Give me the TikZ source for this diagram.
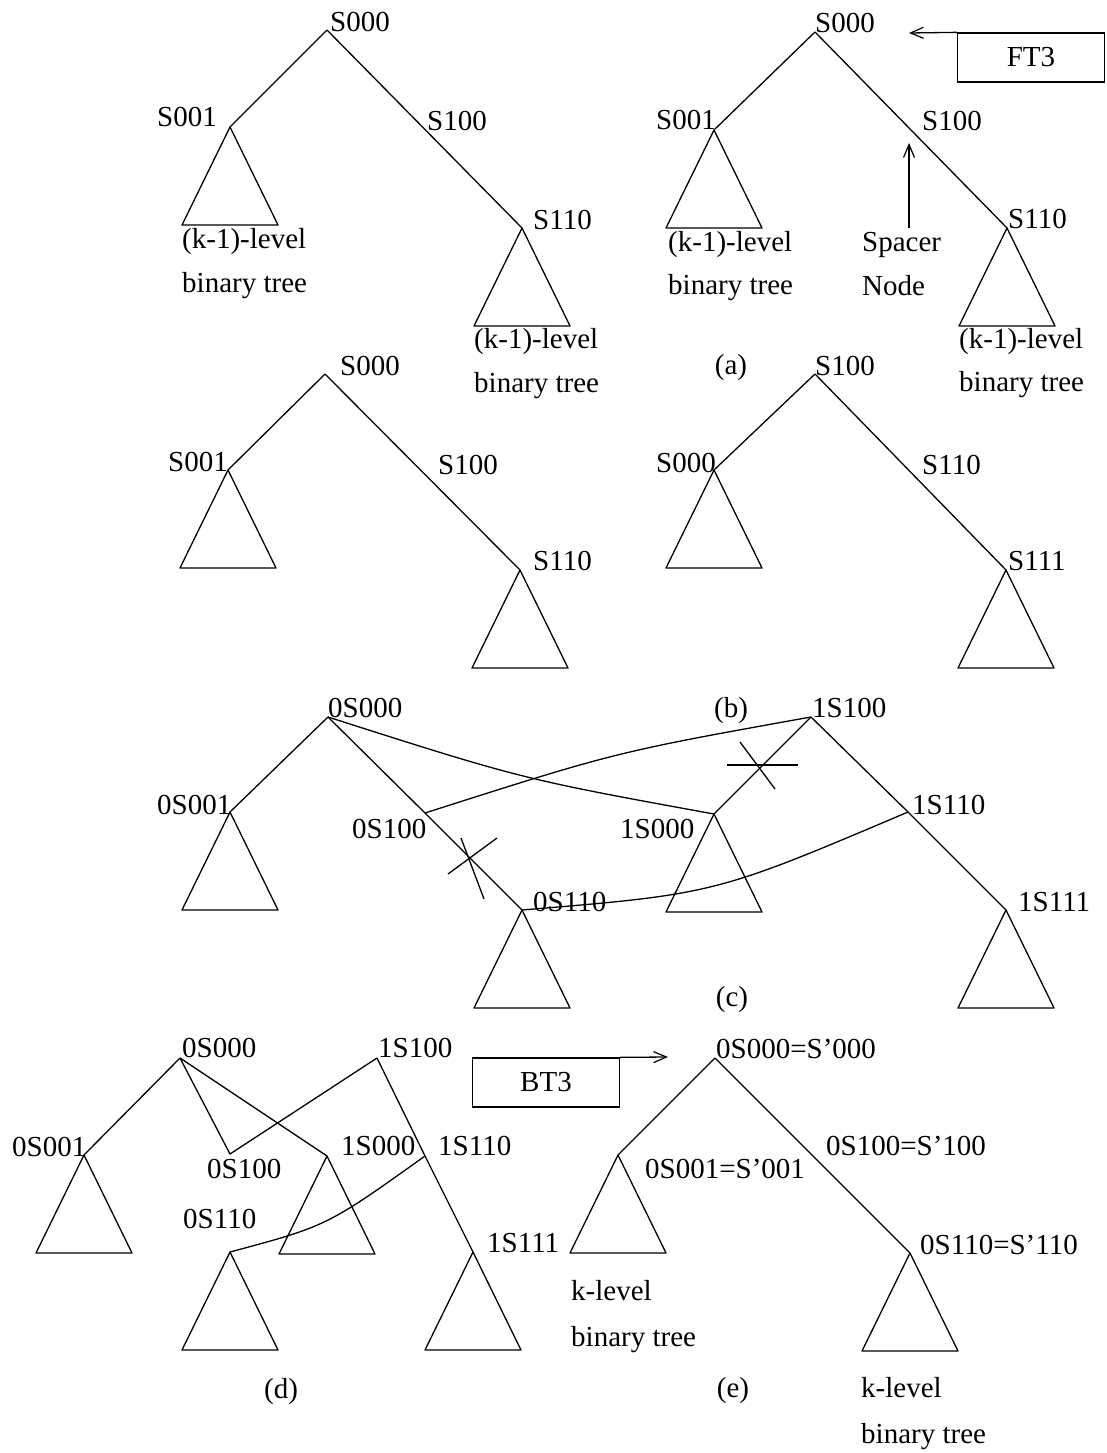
\documentclass[tikz,border=0pt]{standalone}
\usepackage{fontspec}
\setmainfont{Liberation Serif}
\usetikzlibrary{arrows.meta}

\tikzset{
  edge/.style={line width=1.3pt, line join=round},
  lbl/.style={anchor=base west, inner sep=0pt, font=\fontsize{29}{34}\selectfont},
  captext/.style={anchor=base, inner sep=0pt, font=\fontsize{29}{34}\selectfont},
  boxnode/.style={draw, line width=1.3pt, minimum width=147pt, minimum height=49pt,
    inner sep=0pt, font=\fontsize{29}{34}\selectfont},
  barb/.style={-{Straight Barb[length=13pt,width=11pt,line width=1.2pt]}},
  subtree/.pic={\draw[edge] (0,0) -- (-48,98) -- (48,98) -- cycle;},
}

\begin{document}
\begin{tikzpicture}[x=1pt,y=-1pt]
\useasboundingbox (0,0) rectangle (1107,1453);

% ---------------- top left tree ----------------
\coordinate (r1) at (327,30);
\coordinate (a1) at (230,127);
\coordinate (b1) at (522,228);
\draw[edge] (r1) -- (a1);
\draw[edge] (r1) -- (b1);
\pic at (a1) {subtree};
\pic at (b1) {subtree};
\node[lbl] (r1t) at (330,32) {S000};
\node[lbl] (a1t) at (157,127) {S001};
\node[lbl] (m1t) at (427,131) {S100};
\node[lbl] (b1t) at (533,229) {S110};
\node[lbl] (a1k) at (182,248) {(k-1)-level};
\node[lbl] (a1b) at (182,292) {binary tree};
\node[lbl] (b1k) at (474,348) {(k-1)-level};
\node[lbl] (b1b) at (474,392) {binary tree};

% ---------------- top right tree (a) ----------------
\coordinate (r2) at (815,32);
\coordinate (a2) at (714,130);
\coordinate (b2) at (1007,228);
\draw[edge] (r2) -- (a2);
\draw[edge] (r2) -- (b2);
\pic at (a2) {subtree};
\pic at (b2) {subtree};
\node[lbl] (r2t) at (815,33) {S000};
\node[lbl] (a2t) at (656,130) {S001};
\node[lbl] (m2t) at (922,131) {S100};
\node[lbl] (b2t) at (1008,228) {S110};
\node[lbl] (a2k) at (668,251) {(k-1)-level};
\node[lbl] (a2b) at (668,294) {binary tree};
\node[lbl] (b2k) at (959,348) {(k-1)-level};
\node[lbl] (b2b) at (959,391) {binary tree};
\node[lbl] (sp1) at (862,251) {Spacer};
\node[lbl] (sp2) at (862,295) {Node};
\coordinate (spfoot) at (909,228);
\coordinate (sptip) at (909,143);
\draw[edge,barb] (spfoot) -- (sptip);
\node[boxnode] (ft) at (1031,57.5) {FT3};
\coordinate (fttip) at (909,33);
\draw[edge,barb] (ft.north west) -- (fttip);
\node[captext] (capa) at (731,374) {(a)};

% ---------------- middle left tree ----------------
\coordinate (r3) at (325,374);
\coordinate (a3) at (228,470);
\coordinate (b3) at (520,570);
\draw[edge] (r3) -- (a3);
\draw[edge] (r3) -- (b3);
\pic at (a3) {subtree};
\pic at (b3) {subtree};
\node[lbl] (r3t) at (340,375) {S000};
\node[lbl] (a3t) at (168,471) {S001};
\node[lbl] (m3t) at (438,474) {S100};
\node[lbl] (b3t) at (533,570) {S110};

% ---------------- middle right tree ----------------
\coordinate (r4) at (815,374);
\coordinate (a4) at (714,470);
\coordinate (b4) at (1006,570);
\draw[edge] (r4) -- (a4);
\draw[edge] (r4) -- (b4);
\pic at (a4) {subtree};
\pic at (b4) {subtree};
\node[lbl] (r4t) at (815,375) {S100};
\node[lbl] (a4t) at (656,472) {S000};
\node[lbl] (m4t) at (922,474) {S110};
\node[lbl] (b4t) at (1008,570) {S111};
\node[captext] (capb) at (731,717) {(b)};

% ---------------- (c): two copies being joined ----------------
\coordinate (c0) at (328,717);
\coordinate (c1) at (230,812);
\coordinate (c2) at (425,813);
\coordinate (c3) at (522,910);
\coordinate (d0) at (811,717);
\coordinate (d1) at (714,814);
\coordinate (d2) at (908,812);
\coordinate (d3) at (1006,910);
\draw[edge] (c0) -- (c1);
\draw[edge] (c0) -- (c2) -- (c3);
\draw[edge] (d0) -- (d1);
\draw[edge] (d0) -- (d2) -- (d3);
\draw[edge] (c0) .. controls (522,779) .. (d1);
\draw[edge] (c2) .. controls (616,752) .. (d0);
\draw[edge] (c3) .. controls (715,894) .. (d2);
\pic at (c1) {subtree};
\pic at (c3) {subtree};
\pic at (d1) {subtree};
\pic at (d3) {subtree};
% cut marks on the removed links
\draw[edge] (448,874) -- (497,838);
\draw[edge] (461,838) -- (484,899);
\draw[edge] (727,765) -- (798,765);
\draw[edge] (740,742) -- (775,789);
\node[lbl] (c0t) at (328,717) {0S000};
\node[lbl] (c1t) at (157,814) {0S001};
\node[lbl] (c2t) at (352,838) {0S100};
\node[lbl] (c3t) at (533,911) {0S110};
\node[lbl] (d0t) at (812,717) {1S100};
\node[lbl] (d1t) at (620,838) {1S000};
\node[lbl] (d2t) at (912,814) {1S110};
\node[lbl] (d3t) at (1018,911) {1S111};
\node[captext] (capc) at (732,1006) {(c)};

% ---------------- (d): rearranged links ----------------
\coordinate (e0) at (180,1058);
\coordinate (e1) at (84,1155);
\coordinate (e2) at (230,1154);
\coordinate (e3) at (230,1252);
\coordinate (f0) at (377,1058);
\coordinate (f1) at (327,1156);
\coordinate (f2) at (425,1156);
\coordinate (f3) at (473,1252);
\draw[edge] (e0) -- (e1);
\draw[edge] (e0) -- (e2) -- (f0);
\draw[edge] (e0) -- (f1);
\draw[edge] (f0) -- (f2) -- (f3);
\draw[edge] (f2) .. controls (327,1226) .. (e3);
\pic at (e1) {subtree};
\pic at (e3) {subtree};
\pic at (f1) {subtree};
\pic at (f3) {subtree};
\node[lbl] (e0t) at (182,1057) {0S000};
\node[lbl] (e1t) at (12,1156) {0S001};
\node[lbl] (e2t) at (207,1178) {0S100};
\node[lbl] (e3t) at (183,1228) {0S110};
\node[lbl] (f0t) at (378,1057) {1S100};
\node[lbl] (f1t) at (341,1155) {1S000};
\node[lbl] (f2t) at (438,1155) {1S110};
\node[lbl] (f3t) at (487,1252) {1S111};
\node[captext] (capd) at (281,1398) {(d)};

\node[boxnode] (bt) at (546,1082.5) {BT3};
\coordinate (bttip) at (668,1057);
\draw[edge,barb] (bt.north east) -- (bttip);

% ---------------- (e): resulting k-level tree ----------------
\coordinate (g0) at (715,1058);
\coordinate (g1) at (618,1155);
\coordinate (g3) at (910,1253);
\draw[edge] (g0) -- (g1);
\draw[edge] (g0) -- (g3);
\pic at (g1) {subtree};
\pic at (g3) {subtree};
\node[lbl] (g0t) at (716,1058) {0S000=S'000};
\node[lbl] (g1t) at (645,1178) {0S001=S'001};
\node[lbl] (g2t) at (826,1155) {0S100=S'100};
\node[lbl] (g3t) at (920,1254) {0S110=S'110};
\node[lbl] (g1k) at (571,1300) {k-level};
\node[lbl] (g1b) at (571,1346) {binary tree};
\node[lbl] (g3k) at (861,1397) {k-level};
\node[lbl] (g3b) at (861,1443) {binary tree};
\node[captext] (cape) at (733,1397) {(e)};

\end{tikzpicture}
\end{document}
